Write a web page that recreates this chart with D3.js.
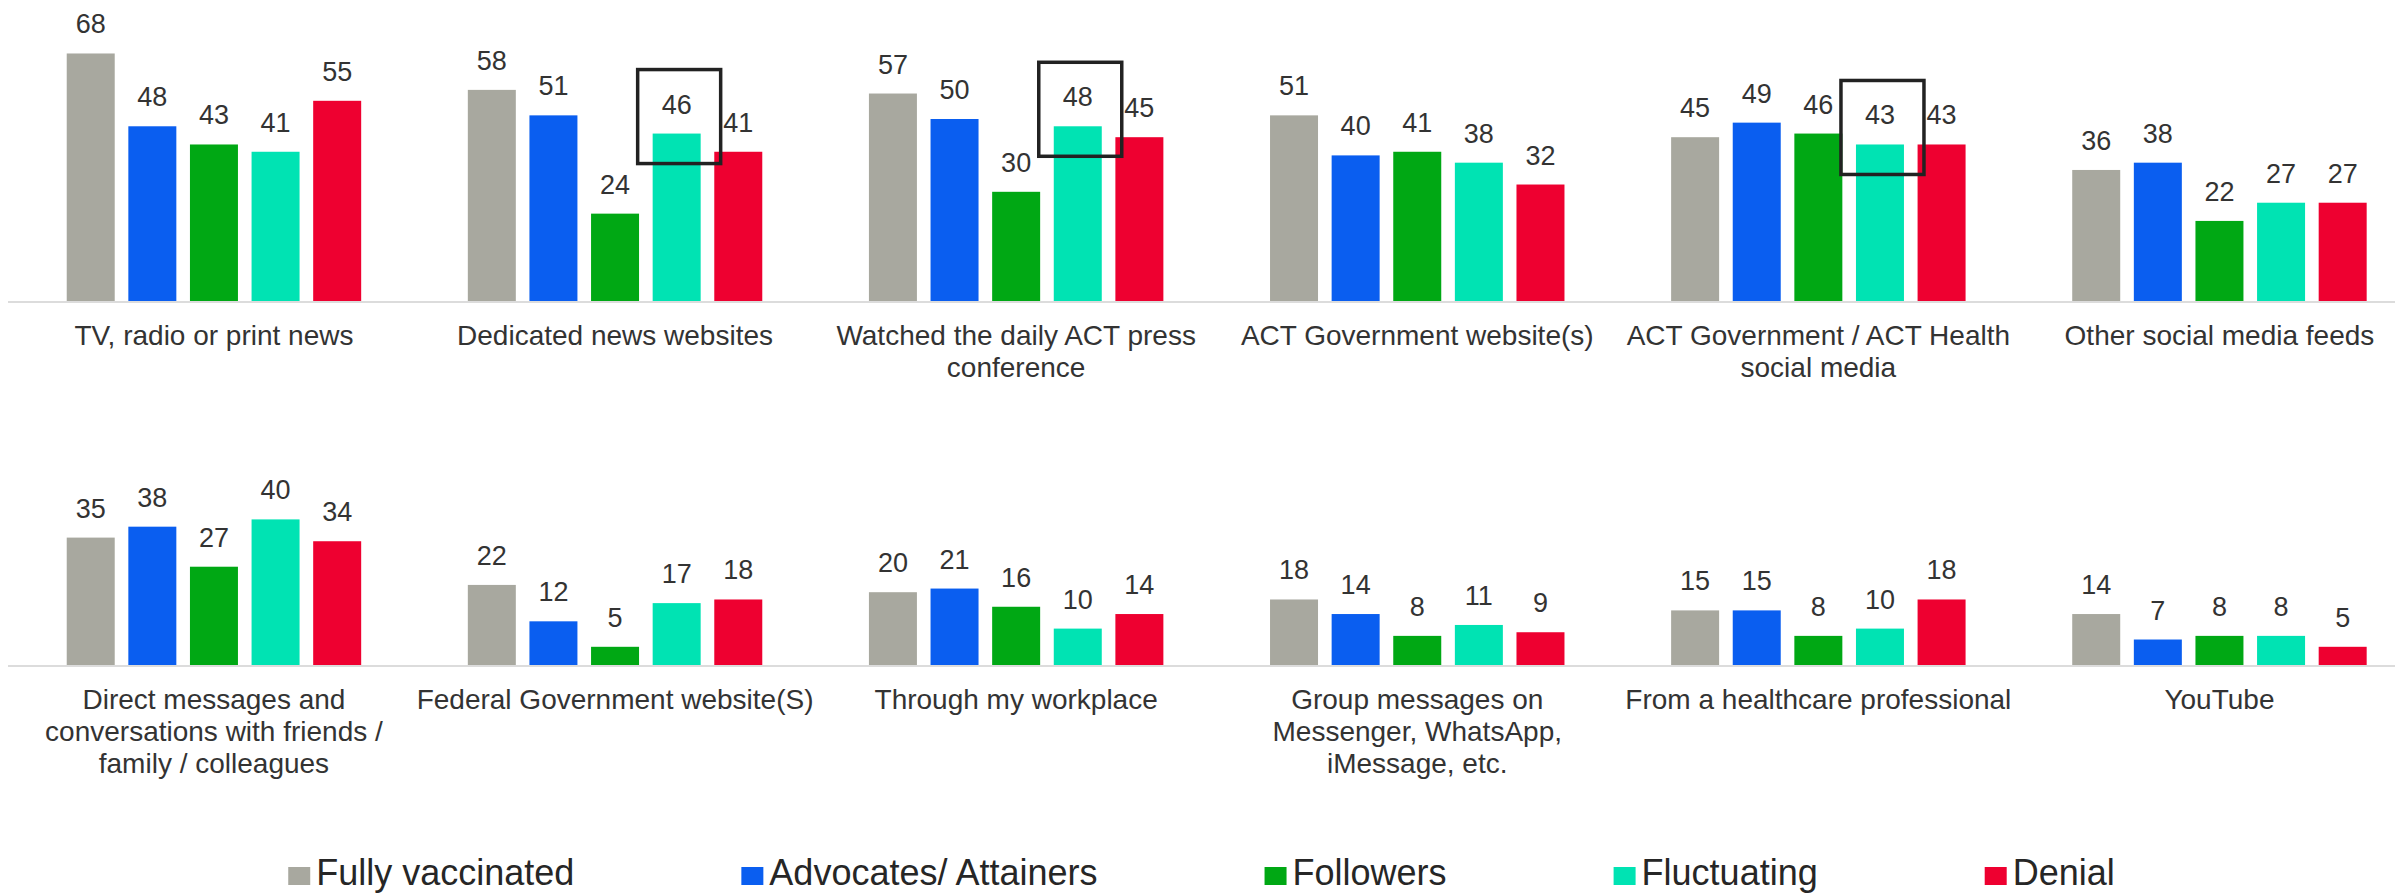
<!DOCTYPE html>
<html>
<head>
<meta charset="utf-8">
<script src="https://cdn.jsdelivr.net/npm/d3@7"></script>
<style>
  body { margin: 0; background: #fff; }
  svg { display: block; font-family: "Liberation Sans", Arial, sans-serif; }
</style>
</head>
<body>
<svg id="chart" width="2403" height="894"></svg>
<script>
var series = ["Fully vaccinated", "Advocates/ Attainers", "Followers", "Fluctuating", "Denial"];
var colors = ["#a8a89f", "#0a5ef0", "#00a814", "#00e3b3", "#ee0030"];

var topCategories = [
  "TV, radio or print news",
  "Dedicated news websites",
  "Watched the daily ACT press\nconference",
  "ACT Government website(s)",
  "ACT Government / ACT Health\nsocial media",
  "Other social media feeds"
];
var topValues = [
  [68, 48, 43, 41, 55],
  [58, 51, 24, 46, 41],
  [57, 50, 30, 48, 45],
  [51, 40, 41, 38, 32],
  [45, 49, 46, 43, 43],
  [36, 38, 22, 27, 27]
];

var bottomCategories = [
  "Direct messages and\nconversations with friends /\nfamily / colleagues",
  "Federal Government website(S)",
  "Through my workplace",
  "Group messages on\nMessenger, WhatsApp,\niMessage, etc.",
  "From a healthcare professional",
  "YouTube"
];
var bottomValues = [
  [35, 38, 27, 40, 34],
  [22, 12, 5, 17, 18],
  [20, 21, 16, 10, 14],
  [18, 14, 8, 11, 9],
  [15, 15, 8, 10, 18],
  [14, 7, 8, 8, 5]
];

// bars that get the black outline box in the original slide
var boxedCategories = ["Dedicated news websites", "Watched the daily ACT press\nconference", "ACT Government / ACT Health\nsocial media"];
var boxedSeries = "Fluctuating";

var svg = d3.select("#chart");
var W = 2403;

var x0 = d3.scaleBand().domain(d3.range(6)).range([13.4, 2420]).paddingInner(0.198).paddingOuter(0.099);
var x1 = d3.scaleBand().domain(series).range([0, x0.bandwidth()]).padding(0.221);
var y = d3.scaleLinear().domain([0, 100]).range([0, 364]);
var color = d3.scaleOrdinal().domain(series).range(colors);

function drawRow(cats, vals, baseline) {
  var g = svg.append("g").attr("transform", "translate(0," + baseline + ")");

  g.append("line")
    .attr("x1", 8).attr("x2", W - 8)
    .attr("y1", 1).attr("y2", 1)
    .style("stroke", "#dcdcdc")
    .style("stroke-width", 2);

  var groups = g.selectAll(".grp")
    .data(cats)
    .enter().append("g")
    .attr("class", "grp")
    .attr("transform", function(d, i) { return "translate(" + x0(i) + ",0)"; });

  groups.each(function(cat, i) {
    var gg = d3.select(this);
    var rows = series.map(function(s, j) { return { s: s, v: vals[i][j] }; });

    gg.selectAll("rect.bar")
      .data(rows)
      .enter().append("rect")
      .attr("class", "bar")
      .attr("x", function(d) { return x1(d.s); })
      .attr("y", function(d) { return -y(d.v); })
      .attr("width", x1.bandwidth())
      .attr("height", function(d) { return y(d.v); })
      .style("fill", function(d) { return color(d.s); });

    gg.selectAll("text.val")
      .data(rows)
      .enter().append("text")
      .attr("class", "val")
      .attr("x", function(d) { return x1(d.s) + x1.bandwidth() / 2; })
      .attr("y", function(d) { return -y(d.v) - 20; })
      .attr("text-anchor", "middle")
      .style("font-size", "27px")
      .style("fill", "#333")
      .text(function(d) { return d.v; });

    if (boxedCategories.indexOf(cat) >= 0) {
      var v = vals[i][series.indexOf(boxedSeries)];
      gg.append("rect")
        .attr("x", x1(boxedSeries) - 15)
        .attr("y", -y(v) - 64)
        .attr("width", x1.bandwidth() + 35)
        .attr("height", 94)
        .style("fill", "none")
        .style("stroke", "#222")
        .style("stroke-width", 3.5);
    }

    var label = gg.append("text")
      .attr("x", x0.bandwidth() / 2)
      .attr("y", 44)
      .attr("text-anchor", "middle")
      .style("font-size", "28px")
      .style("fill", "#333");
    cat.split("\n").forEach(function(line, k) {
      label.append("tspan")
        .attr("x", x0.bandwidth() / 2)
        .attr("dy", k == 0 ? 0 : 32)
        .text(line);
    });
  });
}

drawRow(topCategories, topValues, 301);
drawRow(bottomCategories, bottomValues, 665);

// legend, centred under the chart
var legend = svg.append("g");
var items = legend.selectAll(".item")
  .data(series)
  .enter().append("g")
  .attr("class", "item");

items.append("rect")
  .attr("x", 0).attr("y", -18)
  .attr("width", 22).attr("height", 18)
  .style("fill", function(d) { return color(d); });

items.append("text")
  .attr("x", 28).attr("y", 0)
  .style("font-size", "36px")
  .style("fill", "#262626")
  .text(function(d) { return d; });

var pos = 0;
items.each(function(d, i) {
  var tw = d3.select(this).select("text").node().getComputedTextLength();
  d3.select(this).attr("transform", "translate(" + pos + ",0)");
  pos += 28 + tw + (i < series.length - 1 ? 167 : 0);
});
legend.attr("transform", "translate(" + ((W - pos) / 2) + ",885)");
</script>
</body>
</html>
